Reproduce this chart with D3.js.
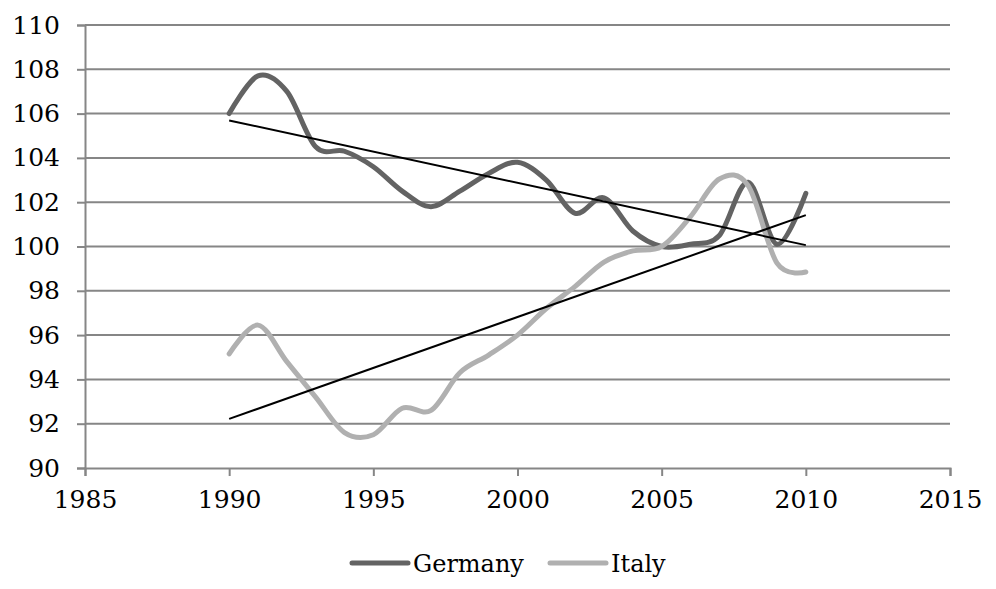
<!DOCTYPE html>
<html>
<head>
<meta charset="utf-8">
<script src="https://cdn.jsdelivr.net/npm/d3@7"></script>
<style>
  html, body { margin: 0; padding: 0; background: #fff; }
  svg { display: block; }
  text { font-family: "DejaVu Serif", serif; fill: #000; }
</style>
</head>
<body>
<svg id="chart" width="996" height="589"></svg>
<script>
const years = [1990,1991,1992,1993,1994,1995,1996,1997,1998,1999,2000,2001,2002,2003,2004,2005,2006,2007,2008,2009,2010];
const germany = [106.0,107.7,107.0,104.5,104.3,103.6,102.5,101.8,102.5,103.3,103.8,103.0,101.5,102.2,100.7,100.0,100.1,100.5,102.9,100.1,102.4];
const italy = [95.15,96.45,94.8,93.2,91.6,91.5,92.7,92.6,94.3,95.1,96.0,97.2,98.2,99.3,99.8,100.0,101.35,103.05,102.75,99.25,98.85];
const seriesNames = ["Germany","Italy"];
const xTicks = [1985,1990,1995,2000,2005,2010,2015];
const yTicks = [90,92,94,96,98,100,102,104,106,108,110];

const colors = {Germany: "#636363", Italy: "#b0b0b0"};
const svg = d3.select("#chart");
const m = {left: 85, right: 46, top: 25, bottom: 121};
const W = 996, H = 589;
const x = d3.scaleLinear().domain([1985, 2015]).range([m.left, W - m.right]);
const y = d3.scaleLinear().domain([90, 110]).range([H - m.bottom, m.top]);
const grid = "#868686";

// gridlines
svg.append("g").selectAll("line").data(yTicks.filter(d => d !== 90)).join("line")
  .attr("x1", m.left).attr("x2", W - m.right)
  .attr("y1", d => y(d)).attr("y2", d => y(d))
  .attr("stroke", grid).attr("stroke-width", 2);

// y axis
const yAxis = svg.append("g").attr("transform", `translate(${m.left},0)`)
  .call(d3.axisLeft(y).tickValues(yTicks).tickSize(8).tickPadding(17).tickFormat(d3.format("d")));
yAxis.select(".domain").attr("stroke", grid).attr("stroke-width", 2);
yAxis.selectAll(".tick line").attr("stroke", grid).attr("stroke-width", 2);
yAxis.selectAll("text").attr("font-size", 25).attr("font-family", "DejaVu Serif").attr("fill", "#000");

// x axis
const xAxis = svg.append("g").attr("transform", `translate(0,${y(90)})`)
  .call(d3.axisBottom(x).tickValues(xTicks).tickSize(8).tickPadding(14).tickFormat(d3.format("d")));
xAxis.select(".domain").attr("stroke", grid).attr("stroke-width", 2);
xAxis.selectAll(".tick line").attr("stroke", grid).attr("stroke-width", 2);
xAxis.selectAll("text").attr("font-size", 25).attr("font-family", "DejaVu Serif").attr("fill", "#000");

// series lines
const seriesData = {Germany: germany, Italy: italy};
const line = d3.line().x(d => x(d[0])).y(d => y(d[1])).curve(d3.curveCatmullRom.alpha(0));
seriesNames.forEach(name => {
  const pts = years.map((yr, i) => [yr, seriesData[name][i]]);
  svg.append("path").datum(pts)
    .attr("d", line).attr("fill", "none")
    .attr("stroke", colors[name]).attr("stroke-width", 5)
    .attr("stroke-linecap", "round").attr("stroke-linejoin", "round");
});

// linear trend lines (least squares from data)
seriesNames.forEach(name => {
  const vals = seriesData[name];
  const mx = d3.mean(years), my = d3.mean(vals);
  let num = 0, den = 0;
  years.forEach((yr, i) => { num += (yr - mx) * (vals[i] - my); den += (yr - mx) ** 2; });
  const slope = num / den, icpt = my - slope * mx;
  const x0 = years[0], x1 = years[years.length - 1];
  svg.append("line")
    .attr("x1", x(x0)).attr("y1", y(icpt + slope * x0))
    .attr("x2", x(x1)).attr("y2", y(icpt + slope * x1))
    .attr("stroke", "#000").attr("stroke-width", 2);
});

// legend
const legendItems = [{name: "Germany", lx: 352}, {name: "Italy", lx: 550}];
const lg = svg.append("g");
legendItems.forEach(it => {
  lg.append("line").attr("x1", it.lx).attr("x2", it.lx + 56)
    .attr("y1", 563).attr("y2", 563)
    .attr("stroke", colors[it.name]).attr("stroke-width", 5).attr("stroke-linecap", "round");
  lg.append("text").attr("x", it.lx + 61).attr("y", 572)
    .attr("font-size", 24).text(it.name);
});
</script>
</body>
</html>
